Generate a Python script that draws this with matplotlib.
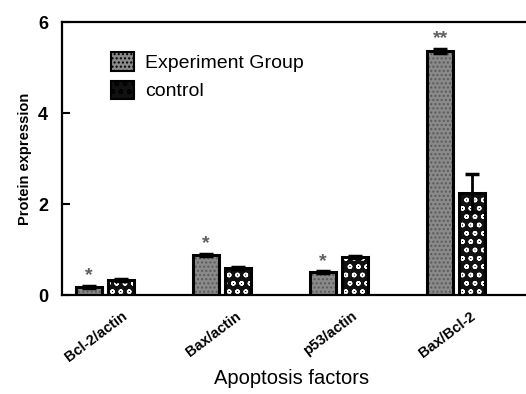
import numpy as np
import matplotlib.pyplot as plt
import matplotlib.transforms as mtransforms
from matplotlib.patches import Rectangle

plt.rcParams['font.family'] = ['Liberation Sans', 'DejaVu Sans']

# data
categories = ['Bcl-2/actin', 'Bax/actin', 'p53/actin', 'Bax/Bcl-2']
experiment = [0.18, 0.88, 0.50, 5.36]
experiment_err = [0.02, 0.03, 0.02, 0.05]
control = [0.33, 0.60, 0.83, 2.24]
control_err = [0.03, 0.02, 0.02, 0.42]
marks = ['*', '*', '*', '**']

x = np.arange(len(categories))
w = 0.22
off = 0.137

fig = plt.figure(figsize=(5.26, 3.94), dpi=100)
ax = fig.add_axes([0.118, 0.251, 0.912, 0.693])

# experiment group: grey fine-dotted fill
ax.bar(x - off, experiment, w, color='#8a8a8a', edgecolor='#5a5a5a', hatch='....', linewidth=0)
ax.bar(x - off, experiment, w, color='none', edgecolor='black', linewidth=2.2,
       yerr=experiment_err, error_kw=dict(ecolor='black', elinewidth=2, capsize=5, capthick=2.5))
# control: black with white circles
ax.bar(x + off, control, w, color='#111111', edgecolor='white', hatch='oo', linewidth=0)
ax.bar(x + off, control, w, color='none', edgecolor='black', linewidth=2.2,
       yerr=control_err, error_kw=dict(ecolor='black', elinewidth=2, capsize=5, capthick=2.5))

for xi, v, e, m in zip(x, experiment, experiment_err, marks):
    ax.text(xi - off, v + e + 0.22, m, ha='center', va='center', fontsize=14,
            fontweight='bold', color='#606060')

ax.set_xlim(-0.368, 3.73)
ax.set_ylim(0, 6)
ax.set_yticks([0, 2, 4, 6])
ax.set_yticklabels(['0', '2', '4', '6'], fontsize=13, fontweight='bold')
ax.tick_params(axis='y', direction='in', length=6, width=1.5, pad=10)
ax.tick_params(axis='x', length=0, pad=10)
ax.set_xticks(x)
ax.set_xticklabels(categories, rotation=37, ha='center', fontsize=10.5, fontweight='bold')
# nudge the rotated labels left, as in the reference
shift = mtransforms.ScaledTranslation(-9 / 100, 0, fig.dpi_scale_trans)
for lab in ax.get_xticklabels():
    lab.set_transform(lab.get_transform() + shift)
for s in ['left', 'bottom', 'top']:
    ax.spines[s].set_linewidth(1.6)
ax.spines['right'].set_visible(False)

ax.set_ylabel('Protein expression', fontsize=10.5, fontweight='bold', labelpad=4)
ax.set_xlabel('Apoptosis factors', fontsize=14.5)
ax.xaxis.set_label_coords(0.479, -0.27)

# legend built by hand so the swatches keep the bar textures
handles = []
for fc, ec, h in [('#8a8a8a', '#5a5a5a', '....'), ('#111111', 'white', 'oo')]:
    handles.append(Rectangle((0, 0), 1, 1, facecolor=fc, edgecolor=ec, hatch=h, linewidth=0))
leg = ax.legend(handles, ['Experiment Group', 'control'], loc='upper left',
                bbox_to_anchor=(0.065, 0.955), frameon=False, fontsize=14,
                handlelength=1.2, handleheight=1.1, handletextpad=0.55, labelspacing=0.45)
for p in leg.get_patches():
    p.set_edgecolor('black')
    p.set_linewidth(1.5)

fig.savefig('out.png', dpi=100)
